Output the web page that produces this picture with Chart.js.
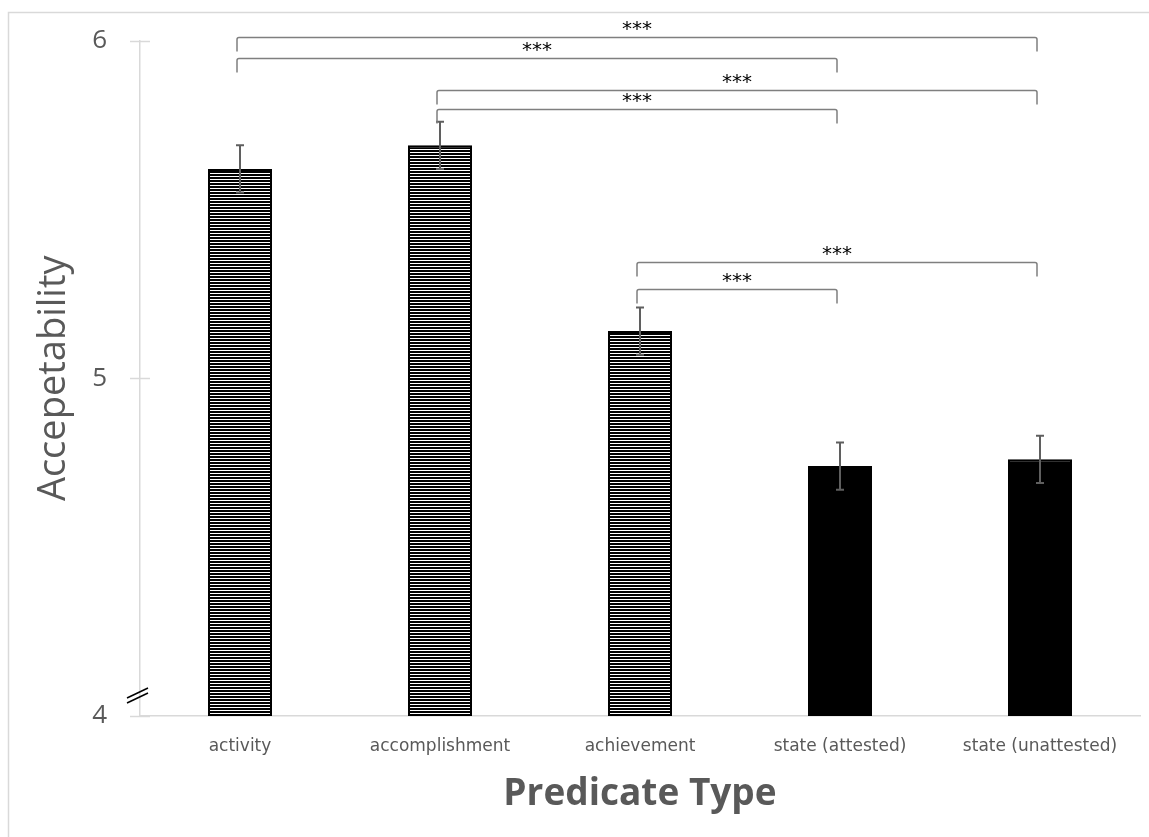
<!DOCTYPE html>
<html>
<head>
<meta charset="utf-8">
<script src="https://cdn.jsdelivr.net/npm/chart.js@4"></script>
<style>
  html, body { margin: 0; padding: 0; background: #fff; }
  #wrap { width: 1149px; height: 837px; }
</style>
</head>
<body>
<div id="wrap"><canvas id="chart" width="1149" height="837"></canvas></div>
<script>
// predicate types and mean acceptability
const categories = ['activity', 'accomplishment', 'achievement', 'state (attested)', 'state (unattested)'];
const means = [5.62, 5.69, 5.14, 4.74, 4.76];
const errors = [0.07, 0.07, 0.07, 0.07, 0.07];
const striped = [true, true, true, false, false];
const yTicks = [4, 5, 6];

// significance brackets: [from index, to index, bracket level (y units), label]
const comparisons = [
  [0, 4, 6.012, '***'],
  [0, 3, 5.947, '***'],
  [1, 4, 5.855, '***'],
  [1, 3, 5.796, '***'],
  [2, 4, 5.345, '***'],
  [2, 3, 5.265, '***']
];

const GRAY_TEXT = '#595959';
const AXIS_GRAY = '#d9d9d9';

// horizontal stripe fill like the Excel pattern
function makeStripes() {
  const c = document.createElement('canvas');
  c.width = 4; c.height = 3;
  const g = c.getContext('2d');
  g.fillStyle = '#fff';
  g.fillRect(0, 0, 4, 3);
  g.fillStyle = '#000';
  g.fillRect(0, 0, 4, 2);
  return g.createPattern(c, 'repeat');
}
const stripes = makeStripes();

// frame, tick marks, axis break, error bars and brackets
const extras = {
  id: 'extras',
  beforeDraw(chart) {
    const ctx = chart.ctx;
    ctx.save();
    ctx.strokeStyle = AXIS_GRAY;
    ctx.lineWidth = 1.5;
    ctx.strokeRect(8.5, 12.5, 1300, 1000);
    ctx.restore();
  },
  afterDatasetsDraw(chart) {
    const ctx = chart.ctx;
    const x = chart.scales.x, y = chart.scales.y;
    const area = chart.chartArea;
    ctx.save();
    // y tick marks crossing the axis
    ctx.strokeStyle = AXIS_GRAY;
    ctx.lineWidth = 1.5;
    yTicks.forEach(t => {
      const py = Math.round(y.getPixelForValue(t)) + 0.5;
      ctx.beginPath();
      ctx.moveTo(area.left - 10, py);
      ctx.lineTo(area.left + 10, py);
      ctx.stroke();
    });
    // axis break marks
    ctx.strokeStyle = '#000';
    ctx.lineWidth = 1.5;
    [18, 23].forEach(off => {
      ctx.beginPath();
      ctx.moveTo(area.left - 13, area.bottom - off + 5);
      ctx.lineTo(area.left + 8, area.bottom - off - 5);
      ctx.stroke();
    });
    // error bars
    ctx.strokeStyle = '#5f5f5f';
    ctx.lineWidth = 2;
    means.forEach((m, i) => {
      const px = x.getPixelForValue(i);
      const top = y.getPixelForValue(m + errors[i]);
      const bot = y.getPixelForValue(m - errors[i]);
      ctx.beginPath();
      ctx.moveTo(px, top); ctx.lineTo(px, bot);
      ctx.moveTo(px - 4, top); ctx.lineTo(px + 4, top);
      ctx.moveTo(px - 4, bot); ctx.lineTo(px + 4, bot);
      ctx.stroke();
    });
    // significance brackets
    ctx.strokeStyle = '#7f7f7f';
    ctx.lineWidth = 1.5;
    ctx.fillStyle = '#000';
    ctx.font = '20px "DejaVu Sans"';
    ctx.textAlign = 'center';
    ctx.textBaseline = 'alphabetic';
    comparisons.forEach(([a, b, lvl, label]) => {
      const x1 = x.getPixelForValue(a) - 3;
      const x2 = x.getPixelForValue(b) - 3;
      const py = Math.round(y.getPixelForValue(lvl)) + 0.5;
      const drop = 14;
      ctx.beginPath();
      ctx.moveTo(x1, py + drop);
      ctx.lineTo(x1, py + 2);
      ctx.quadraticCurveTo(x1, py, x1 + 2, py);
      ctx.lineTo(x2 - 2, py);
      ctx.quadraticCurveTo(x2, py, x2, py + 2);
      ctx.lineTo(x2, py + drop);
      ctx.stroke();
      ctx.fillText(label, (x1 + x2) / 2, py - 3);
    });
    ctx.restore();
  }
};

new Chart(document.getElementById('chart'), {
  type: 'bar',
  data: {
    labels: categories,
    datasets: [{
      data: means,
      backgroundColor: striped.map(s => s ? stripes : '#000'),
      borderColor: '#000',
      borderWidth: 2,
      barPercentage: 0.32,
      categoryPercentage: 1
    }]
  },
  options: {
    responsive: false,
    animation: false,
    layout: { padding: { top: 36, right: 9, left: 0, bottom: 0 } },
    plugins: {
      legend: { display: false },
      tooltip: { enabled: false }
    },
    scales: {
      x: {
        grid: { display: false },
        border: { display: true, color: AXIS_GRAY, width: 1.5 },
        ticks: { color: GRAY_TEXT, font: { family: 'DejaVu Sans', size: 17 }, padding: 12, maxRotation: 0 },
        title: {
          display: true, text: 'Predicate Type', color: GRAY_TEXT,
          font: { family: 'Open Sans', size: 37, weight: 'bold' }, padding: { top: 0, bottom: 20 }
        },
        afterFit(s) { s.height = 121; }
      },
      y: {
        min: 4, max: 6,
        grid: { display: false },
        border: { display: true, color: AXIS_GRAY, width: 1.5 },
        ticks: { stepSize: 1, color: GRAY_TEXT, font: { family: 'Open Sans', size: 26 }, padding: 25 },
        title: {
          display: true, text: 'Accepetability', color: GRAY_TEXT,
          font: { family: 'Open Sans', size: 38 }, padding: { top: 31 }
        },
        afterFit(s) { s.width = 140; }
      }
    }
  },
  plugins: [extras]
});
</script>
</body>
</html>
